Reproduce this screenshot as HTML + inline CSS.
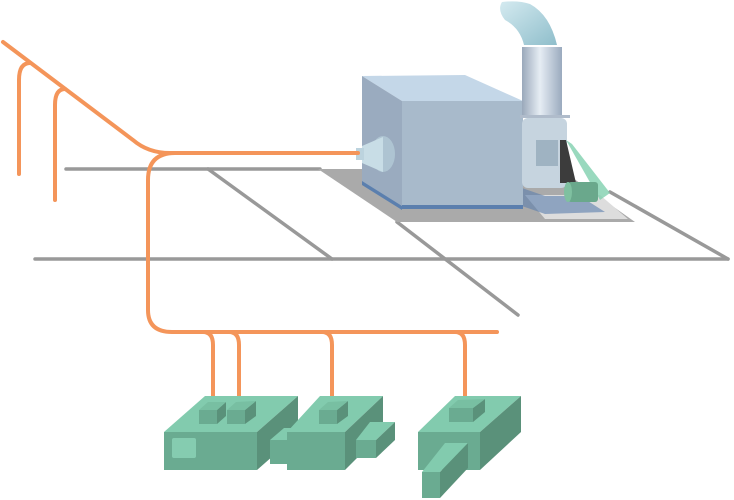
<!DOCTYPE html>
<html><head><style>html,body{margin:0;padding:0;background:#fff}svg{display:block}</style></head>
<body>
<svg width="734" height="500" viewBox="0 0 734 500" xmlns="http://www.w3.org/2000/svg">
<defs>
<linearGradient id="cyl" x1="0" x2="1"><stop offset="0" stop-color="#9aa8ba"/><stop offset="0.45" stop-color="#e6edf4"/><stop offset="1" stop-color="#9aaabe"/></linearGradient>
<linearGradient id="elb" x1="0" x2="1" y1="0" y2="1"><stop offset="0" stop-color="#d4eaf0"/><stop offset="1" stop-color="#8fbecb"/></linearGradient>
</defs>
<g stroke="#999" stroke-width="3.5" fill="none" stroke-linecap="round">
<line x1="66" y1="169" x2="320" y2="169"/>
<line x1="35" y1="259" x2="728" y2="259"/>
<line x1="208" y1="169" x2="332" y2="259"/>
<line x1="397" y1="222" x2="518" y2="315"/>
<line x1="610" y1="192" x2="728" y2="259"/>
</g>
<polygon points="318,169 560,169 635,222 397,222" fill="#aaa"/>
<polygon points="525,195 600,195 628,219 545,219" fill="#ddd"/>
<polygon points="522,188 545,196 580,196 605,212 545,214 522,206" fill="#5b7fae" opacity="0.6"/>
<polygon points="362,76 465,75 523,101 402,101" fill="#c4d7e8"/>
<polygon points="362,76 402,101 402,208 362,183" fill="#9aabbf"/>
<rect x="402" y="101" width="121" height="107" fill="#a8bacb"/>
<polygon points="362,181 402,206 402,210 362,185" fill="#5b7fae"/>
<rect x="402" y="205" width="121" height="4" fill="#5b7fae"/>
<ellipse cx="383" cy="154" rx="12" ry="18" fill="#aec4d2"/>
<polygon points="362,146 383,137 383,172 362,163" fill="#c8dde6"/>
<rect x="356" y="148" width="8" height="12" fill="#bcd3de"/>
<rect x="522" y="47" width="40" height="70" fill="url(#cyl)"/>
<path d="M502,2 Q518,0 530,4 Q550,15 557,45 L524,45 Q520,28 505,20 Q497,10 502,2 Z" fill="url(#elb)"/>
<rect x="520" y="115" width="50" height="3" fill="#b0bccb"/>
<rect x="522" y="118" width="45" height="70" rx="6" fill="#c6d4df"/>
<rect x="536" y="140" width="22" height="26" fill="#9fb3c2"/>
<polygon points="560,140 566,140 576,183 560,183" fill="#3c3c3c"/>
<polygon points="566,140 572,144 610,193 600,200" fill="#7fcfae" opacity="0.8"/>
<rect x="568" y="182" width="30" height="20" rx="3" fill="#6aa88c"/>
<ellipse cx="568" cy="192" rx="4" ry="10" fill="#7fc0a0"/>
<g stroke="#f4955a" stroke-width="4" fill="none" stroke-linecap="round">
<path d="M3,42 L133,140 Q148,153 170,153 L358,153"/>
<path d="M30,63 Q19,63 19,80 L19,174"/>
<path d="M65,89 Q55,89 55,105 L55,200"/>
<path d="M175,153 Q148,153 148,180 L148,310 Q148,332 172,332 L497,332"/>
<path d="M203,332 Q213,332 213,345 L213,405"/>
<path d="M229,332 Q239,332 239,345 L239,405"/>
<path d="M322,332 Q332,332 332,345 L332,405"/>
<path d="M455,332 Q465,332 465,345 L465,405"/>
</g>
<polygon points="164,432 205,396 298,396 257,432" fill="#82cbae"/>
<rect x="164" y="432" width="93" height="38" fill="#6aab91"/>
<polygon points="257,432 298,396 298,434 257,470" fill="#5a917a"/>
<rect x="172" y="438" width="24" height="20" rx="2" fill="#85ccb0"/>
<rect x="199" y="410" width="18" height="14" fill="#6aab91"/><polygon points="217,410 226,402 226,416 217,424" fill="#5a917a"/><polygon points="199,410 208,402 226,402 217,410" fill="#78bfa2"/>
<rect x="227" y="410" width="18" height="14" fill="#6aab91"/><polygon points="245,410 256,401 256,416 245,424" fill="#5a917a"/><polygon points="227,410 236,402 256,401 245,410" fill="#78bfa2"/>
<rect x="270" y="440" width="20" height="24" fill="#6aab91"/>
<polygon points="270,440 284,428 300,428 290,440" fill="#82cbae"/>
<polygon points="287,432 320,396 383,396 345,432" fill="#82cbae"/>
<rect x="287" y="432" width="58" height="38" fill="#6aab91"/>
<polygon points="345,432 383,396 383,432 345,470" fill="#5a917a"/>
<rect x="356" y="440" width="20" height="18" fill="#6aab91"/>
<polygon points="356,440 370,422 395,422 376,440" fill="#82cbae"/>
<polygon points="376,440 395,422 395,440 376,458" fill="#5a917a"/>
<rect x="319" y="410" width="18" height="14" fill="#6aab91"/><polygon points="337,410 348,401 348,416 337,424" fill="#5a917a"/><polygon points="319,410 328,402 348,401 337,410" fill="#78bfa2"/>
<polygon points="418,432 455,396 521,396 480,432" fill="#82cbae"/>
<rect x="418" y="432" width="62" height="38" fill="#6aab91"/>
<polygon points="480,432 521,396 521,432 480,470" fill="#5a917a"/>
<rect x="449" y="408" width="24" height="14" fill="#6aab91"/><polygon points="473,408 485,399 485,412 473,422" fill="#5a917a"/><polygon points="449,408 458,400 485,399 473,408" fill="#78bfa2"/>
<polygon points="422,472 445,443 468,443 440,472" fill="#82cbae"/>
<rect x="422" y="472" width="18" height="26" fill="#6aab91"/>
<polygon points="440,472 468,443 468,468 440,498" fill="#5a917a"/>
</svg>
</body></html>
